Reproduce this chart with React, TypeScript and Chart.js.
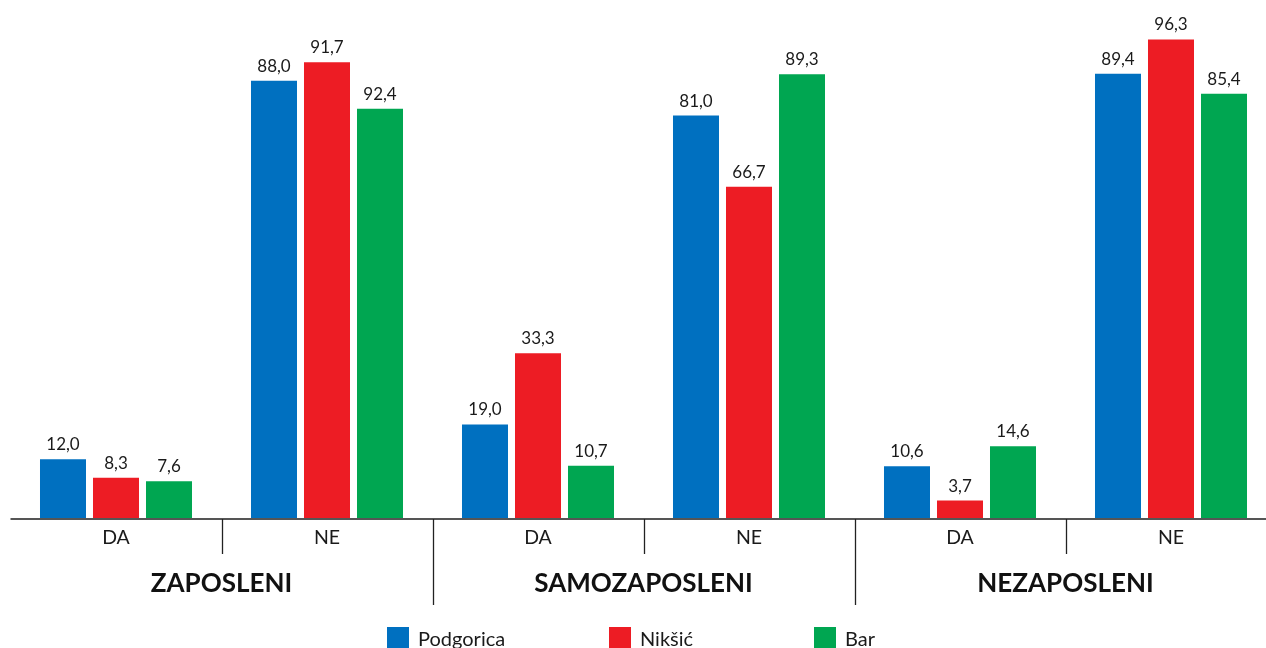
import React, { useEffect, useRef } from "react";
import { Chart, registerables } from "chart.js";

Chart.register(...registerables);

const categories = ["DA", "NE", "DA", "NE", "DA", "NE"];
const groups = ["ZAPOSLENI", "SAMOZAPOSLENI", "NEZAPOSLENI"];
const seriesNames = ["Podgorica", "Nikšić", "Bar"];
// bar heights as drawn in the picture
const podgorica = [12.0, 88.0, 19.0, 81.0, 10.6, 89.4];
const niksic = [8.3, 91.7, 33.3, 66.7, 3.7, 96.3];
const bar = [7.6, 82.4, 10.7, 89.3, 14.6, 85.4];
// printed value labels (the picture labels the Bar/ZAPOSLENI/NE bar 92,4)
const podgoricaLabels = ["12,0", "88,0", "19,0", "81,0", "10,6", "89,4"];
const niksicLabels = ["8,3", "91,7", "33,3", "66,7", "3,7", "96,3"];
const barLabels = ["7,6", "92,4", "10,7", "89,3", "14,6", "85,4"];
const colors = ["#0070C0", "#ED1C24", "#00A651"];

const FONT = "Lato, 'Open Sans', sans-serif";
const CANVAS_W = 1290;
const CANVAS_H = 648;

const overlay = {
  id: "overlay",
  afterDatasetsDraw(chart: any) {
    const ctx = chart.ctx;
    const area = chart.chartArea;
    const x = chart.scales.x;
    const labelSets = [podgoricaLabels, niksicLabels, barLabels];
    ctx.save();
    // value labels
    ctx.fillStyle = "#1a1a1a";
    ctx.font = `17px ${FONT}`;
    ctx.textAlign = "center";
    ctx.textBaseline = "alphabetic";
    chart.data.datasets.forEach((ds: any, di: number) => {
      const meta = chart.getDatasetMeta(di);
      meta.data.forEach((el: any, i: number) => {
        ctx.fillText(labelSets[di][i], el.x, el.y - 9);
      });
    });
    // axis line
    ctx.strokeStyle = "#555";
    ctx.lineWidth = 2;
    ctx.beginPath();
    ctx.moveTo(area.left, area.bottom);
    ctx.lineTo(area.right, area.bottom);
    ctx.stroke();
    // separators
    ctx.strokeStyle = "#222";
    ctx.lineWidth = 1.3;
    for (let i = 0; i < categories.length - 1; i++) {
      const sx = Math.round((x.getPixelForValue(i) + x.getPixelForValue(i + 1)) / 2) + 0.5;
      const long = i % 2 === 1;
      ctx.beginPath();
      ctx.moveTo(sx, area.bottom);
      ctx.lineTo(sx, area.bottom + (long ? 86 : 35));
      ctx.stroke();
    }
    // category labels
    ctx.fillStyle = "#1a1a1a";
    ctx.font = `19.5px ${FONT}`;
    ctx.textBaseline = "middle";
    categories.forEach((c, i) => {
      ctx.fillText(c, x.getPixelForValue(i), area.bottom + 19);
    });
    // group labels
    ctx.fillStyle = "#111";
    ctx.font = `bold 26px ${FONT}`;
    groups.forEach((g, gi) => {
      const cx = (x.getPixelForValue(gi * 2) + x.getPixelForValue(gi * 2 + 1)) / 2;
      ctx.fillText(g, cx, area.bottom + 65);
    });
    // legend
    const legendX = [387, 609, 814];
    ctx.font = `20px ${FONT}`;
    ctx.textAlign = "left";
    ctx.textBaseline = "alphabetic";
    seriesNames.forEach((n, i) => {
      ctx.fillStyle = colors[i];
      ctx.fillRect(legendX[i], 627, 22, 22);
      ctx.fillStyle = "#1a1a1a";
      ctx.fillText(n, legendX[i] + 31, 646);
    });
    ctx.restore();
  },
};

export default function App() {
  const ref = useRef<HTMLCanvasElement>(null);
  useEffect(() => {
    const chart = new Chart(ref.current!, {
      type: "bar",
      data: {
        labels: categories,
        datasets: [podgorica, niksic, bar].map((d, i) => ({
          label: seriesNames[i],
          data: d,
          backgroundColor: colors[i],
          borderWidth: 0,
          barPercentage: 0.868,
          categoryPercentage: 0.7536,
        })),
      },
      options: {
        responsive: false,
        animation: false,
        layout: { padding: { left: 10.5, right: CANVAS_W - 1276.5, top: 21, bottom: CANVAS_H - 519 } },
        plugins: { legend: { display: false }, tooltip: { enabled: false } },
        scales: {
          x: { display: false },
          y: { display: false, min: 0, max: 100 },
        },
      },
      plugins: [overlay],
    });
    return () => chart.destroy();
  }, []);
  return (
    <div style={{ position: "fixed", left: 0, top: 0, width: 1266, height: 648, overflow: "hidden", background: "#fff" }}>
      <canvas ref={ref} width={CANVAS_W} height={CANVAS_H} style={{ position: "absolute", left: 0, top: 0 }} />
    </div>
  );
}
